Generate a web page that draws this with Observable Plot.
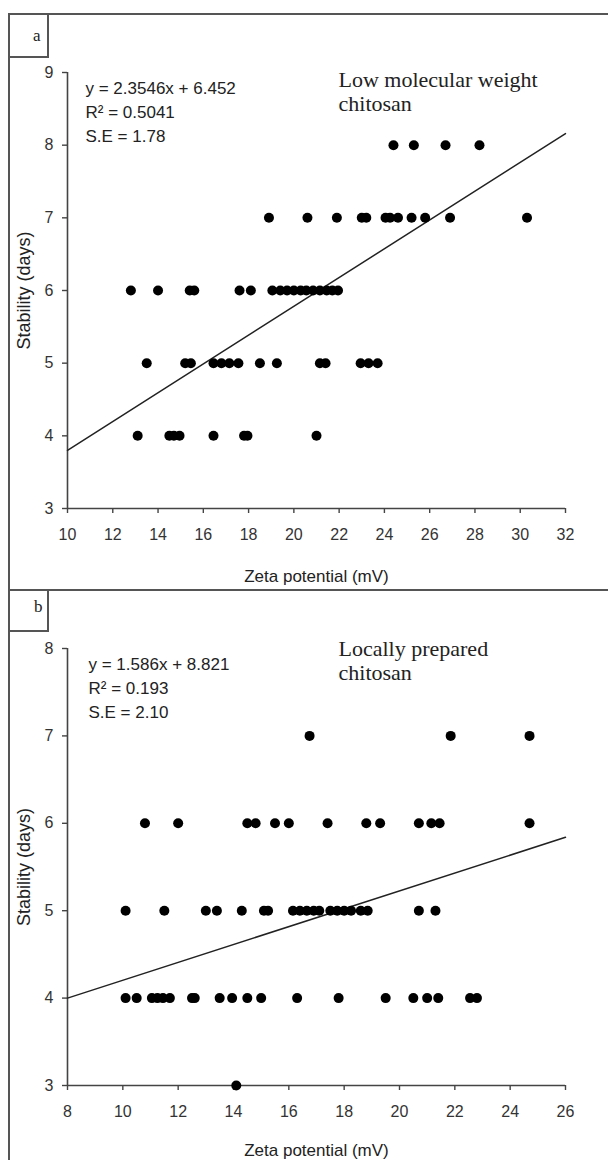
<!DOCTYPE html>
<html><head><meta charset="utf-8">
<script src="https://cdn.jsdelivr.net/npm/d3@7"></script>
<script src="https://cdn.jsdelivr.net/npm/@observablehq/plot@0.6"></script>
<style>
body{margin:0;background:#fff;}
#wrap{position:relative;width:608px;height:1160px;overflow:hidden;background:#fff;}
.panel{position:absolute;left:0;}
.ln{position:absolute;background:#555;}
.lab{position:absolute;font-family:"Liberation Serif","Times New Roman",serif;font-size:17px;color:#222;}
</style></head><body><div id="wrap"></div>
<script>
// Panel a: Low molecular weight chitosan
const lmwZeta = [24.4,25.3,26.7,28.2,
  18.9,20.6,21.9,23.0,23.2,24.05,24.25,24.6,25.2,25.8,26.9,30.3,
  12.8,14.0,15.4,15.6,17.6,18.1,19.05,19.4,19.7,20.0,20.3,20.55,20.85,21.15,21.45,21.7,21.95,
  13.5,15.2,15.45,16.45,16.8,17.15,17.55,18.5,19.25,21.15,21.4,22.95,23.3,23.7,
  13.1,14.5,14.7,14.95,16.45,17.8,17.95,21.0];
const lmwStability = [8,8,8,8,
  7,7,7,7,7,7,7,7,7,7,7,7,
  6,6,6,6,6,6,6,6,6,6,6,6,6,6,6,6,6,
  5,5,5,5,5,5,5,5,5,5,5,5,5,5,
  4,4,4,4,4,4,4,4];
const lmwTrendZeta = [10, 32];
const lmwTrendStability = [3.8, 8.16];
const lmwXTicks = [10,12,14,16,18,20,22,24,26,28,30,32];
const lmwYTicks = [3,4,5,6,7,8,9];
const lmwEq = ["y = 2.3546x + 6.452", "R² = 0.5041", "S.E = 1.78"];
const lmwTitle = ["Low molecular weight", "chitosan"];

// Panel b: Locally prepared chitosan
const lpcZeta = [16.75,21.85,24.7,
  10.8,12.0,14.5,14.8,15.5,16.0,17.4,18.8,19.3,20.7,21.15,21.45,24.7,
  10.1,11.5,13.0,13.4,14.3,15.1,15.25,16.15,16.4,16.65,16.9,17.1,17.5,17.75,18.0,18.25,18.6,18.85,20.7,21.3,
  10.1,10.5,11.05,11.25,11.45,11.7,12.5,12.6,13.5,13.95,14.5,15.0,16.3,17.8,19.5,20.5,21.0,21.4,22.55,22.8,
  14.1];
const lpcStability = [7,7,7,
  6,6,6,6,6,6,6,6,6,6,6,6,6,
  5,5,5,5,5,5,5,5,5,5,5,5,5,5,5,5,5,5,5,5,
  4,4,4,4,4,4,4,4,4,4,4,4,4,4,4,4,4,4,4,4,
  3];
const lpcTrendZeta = [8, 26];
const lpcTrendStability = [4.0, 5.84];
const lpcXTicks = [8,10,12,14,16,18,20,22,24,26];
const lpcYTicks = [3,4,5,6,7,8];
const lpcEq = ["y = 1.586x + 8.821", "R² = 0.193", "S.E = 2.10"];
const lpcTitle = ["Locally prepared", "chitosan"];

const xLabel = "Zeta potential (mV)";
const yLabel = "Stability (days)";

const SANS = "'Liberation Sans', Arial, sans-serif";
const SERIF = "'Liberation Serif', 'Times New Roman', serif";

function panel(cfg) {
  const pts = cfg.zeta.map((z, i) => ({z, s: cfg.stab[i]}));
  const trend = cfg.tz.map((z, i) => ({z, s: cfg.ts[i]}));
  const xd = [cfg.xt[0], cfg.xt[cfg.xt.length-1]];
  const yd = [cfg.yt[0], cfg.yt[cfg.yt.length-1]];
  return Plot.plot({
    width: 608, height: cfg.height,
    marginLeft: 67, marginRight: 43, marginTop: cfg.mt, marginBottom: cfg.mb,
    x: {domain: xd}, y: {domain: yd},
    style: {fontFamily: SANS, fontSize: "16px", color: "#333", background: "transparent"},
    marks: [
      Plot.ruleY([yd[0]], {stroke: "#444", strokeWidth: 1.6}),
      Plot.ruleX([xd[0]], {stroke: "#444", strokeWidth: 1.6}),
      Plot.axisX({ticks: cfg.xt, tickFormat: d3.format("d"), tickSize: 5, tickPadding: 15, label: null, stroke: "#444", strokeWidth: 1.4, fontSize: 16}),
      Plot.axisY({ticks: cfg.yt, tickFormat: d3.format("d"), tickSize: 5, tickPadding: 9, label: null, stroke: "#444", strokeWidth: 1.4, fontSize: 16}),
      Plot.line(trend, {x: "z", y: "s", stroke: "#222", strokeWidth: 1.5}),
      Plot.dot(pts, {x: "z", y: "s", r: 5, fill: "#000", stroke: "none"}),
      Plot.text([cfg.eq.join("\n")], {frameAnchor: "top-left", dx: cfg.eqdx, dy: cfg.eqdy, textAnchor: "start", lineAnchor: "top", lineHeight: 1.4, fontSize: 17, fill: "#222"}),
      Plot.text([cfg.title.join("\n")], {frameAnchor: "top-left", dx: 271, dy: cfg.tdy, textAnchor: "start", lineAnchor: "top", lineHeight: 1.07, fontSize: 22, fontFamily: SERIF, fill: "#222"}),
      Plot.text([xLabel], {frameAnchor: "bottom", dy: cfg.xldy, lineAnchor: "middle", fontSize: 17, fill: "#222"}),
      Plot.text([yLabel], {frameAnchor: "left", dx: -43, rotate: -90, lineAnchor: "middle", textAnchor: "middle", fontSize: 18, fill: "#222"})
    ]
  });
}

const wrap = document.getElementById("wrap");
const pa = panel({zeta: lmwZeta, stab: lmwStability, tz: lmwTrendZeta, ts: lmwTrendStability,
  xt: lmwXTicks, yt: lmwYTicks, eq: lmwEq, title: lmwTitle,
  height: 590, mt: 72, mb: 82, eqdx: 18, eqdy: 5, tdy: -2, xldy: 68});
pa.classList.add("panel"); pa.style.top = "0px";
wrap.appendChild(pa);
const pb = panel({zeta: lpcZeta, stab: lpcStability, tz: lpcTrendZeta, ts: lpcTrendStability,
  xt: lpcXTicks, yt: lpcYTicks, eq: lpcEq, title: lpcTitle,
  height: 570, mt: 58, mb: 75, eqdx: 21, eqdy: 5, tdy: -9, xldy: 65});
pb.classList.add("panel"); pb.style.top = "590px";
wrap.appendChild(pb);

function line(l, t, w, h) {
  const d = document.createElement("div");
  d.className = "ln";
  Object.assign(d.style, {left: l+"px", top: t+"px", width: w+"px", height: h+"px"});
  wrap.appendChild(d);
}
function label(txt, l, t) {
  const d = document.createElement("div");
  d.className = "lab"; d.textContent = txt;
  Object.assign(d.style, {left: l+"px", top: t+"px"});
  wrap.appendChild(d);
}
// outer frame and panel separator
line(8, 13, 600, 2);
line(8, 13, 2, 1147);
line(8, 589, 600, 2);
// panel label boxes
line(47, 13, 2, 45); line(8, 56, 41, 2);
line(47, 589, 2, 43); line(8, 630, 41, 2);
label("a", 33, 26);
label("b", 34, 597);
</script>
</body></html>
